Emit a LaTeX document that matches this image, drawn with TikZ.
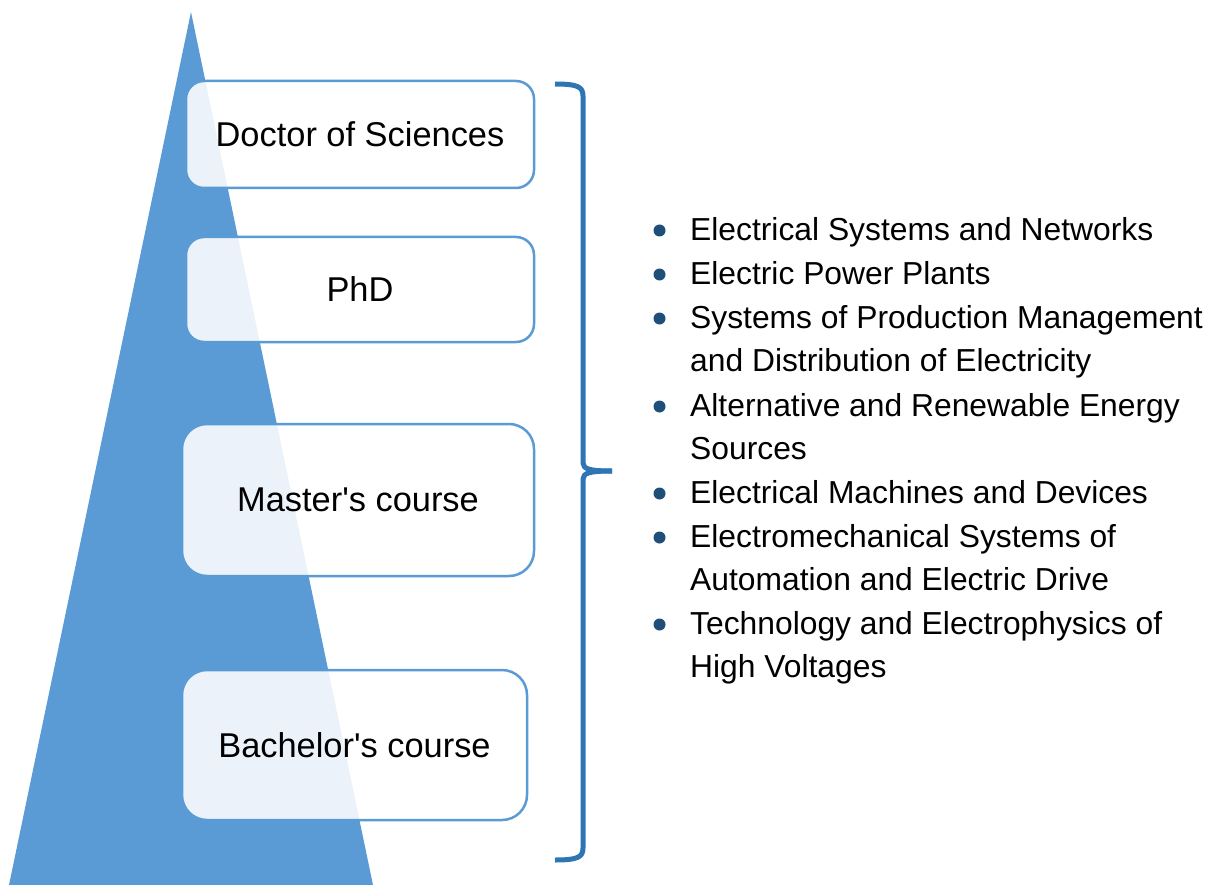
\documentclass[tikz,border=0pt]{standalone}
\usepackage{fontspec}
\setmainfont{Liberation Sans}
\usetikzlibrary{positioning,calc}

\definecolor{tribg}{HTML}{5B9BD5}
\definecolor{bracec}{HTML}{2E75B6}
\definecolor{dotc}{HTML}{1F4E79}

\begin{document}
\begin{tikzpicture}[x=1pt, y=-1pt, line cap=round, line join=round]
  % styles
  \tikzset{
    level/.style={draw=tribg, line width=2.5pt, fill=white, fill opacity=0.88,
      text opacity=1, align=center, inner sep=0pt,
      font=\fontsize{34.4}{40}\selectfont},
    levsmall/.style={level, rounded corners=18pt},
    levbig/.style={level, rounded corners=25pt},
    topic/.style={anchor=north west, align=left, inner sep=0pt,
      font=\fontsize{31.8}{43.7}\selectfont},
    bull/.style={circle, fill=dotc, inner sep=0pt, minimum size=12pt},
    bracepath/.style={draw=bracec, line width=5pt, line cap=butt}
  }

  % ----- frame -----
  \useasboundingbox (0,0) rectangle (1209,885);

  % ----- pyramid -----
  \coordinate (apex) at (191,12);
  \coordinate (bl) at (9,885);
  \coordinate (br) at (373,885);
  \fill[tribg] (apex) -- (br) -- (bl) -- cycle;

  % ----- levels -----
  \node[levsmall, minimum width=348pt, minimum height=107pt] (doc) at (360,134.5) {Doctor of Sciences};
  \node[levsmall, minimum width=348pt, minimum height=105pt] (phd) at (360,289.5) {PhD};
  \node[levbig, minimum width=352pt, minimum height=152pt] (mas) at (358,500) {Master\textquotesingle s course};
  \node[levbig, minimum width=345pt, minimum height=150pt] (bac) at (354.5,745) {Bachelor\textquotesingle s course};

  % ----- brace -----
  \coordinate (btop) at (555,84);
  \coordinate (btip) at (612,471);
  \coordinate (bbot) at (555,860);
  \draw[bracepath] (btop) .. controls (578,84) and (583,87) .. (583,96)
    -- (583,463) .. controls (583,469) and (590,471) .. (btip);
  \draw[bracepath] (btip) .. controls (590,471) and (583,473) .. (583,479)
    -- (583,848) .. controls (583,857) and (578,860) .. (bbot);

  % ----- specialities (baselines of first lines) -----
  \foreach \i/\yb/\txt in {
      1/240/{Electrical Systems and Networks},
      2/284/{Electric Power Plants},
      3/328/{Systems of Production Management\\and Distribution of Electricity},
      4/416/{Alternative and Renewable Energy\\Sources},
      5/503/{Electrical Machines and Devices},
      6/547/{Electromechanical Systems of\\Automation and Electric Drive},
      7/634/{Technology and Electrophysics of\\High Voltages}} {
    \node[bull] (dot\i) at (659.5,\yb-9.5) {};
    \node[topic] (item\i) at (690,\yb-30.6) {\strut\txt};
  }
\end{tikzpicture}
\end{document}
